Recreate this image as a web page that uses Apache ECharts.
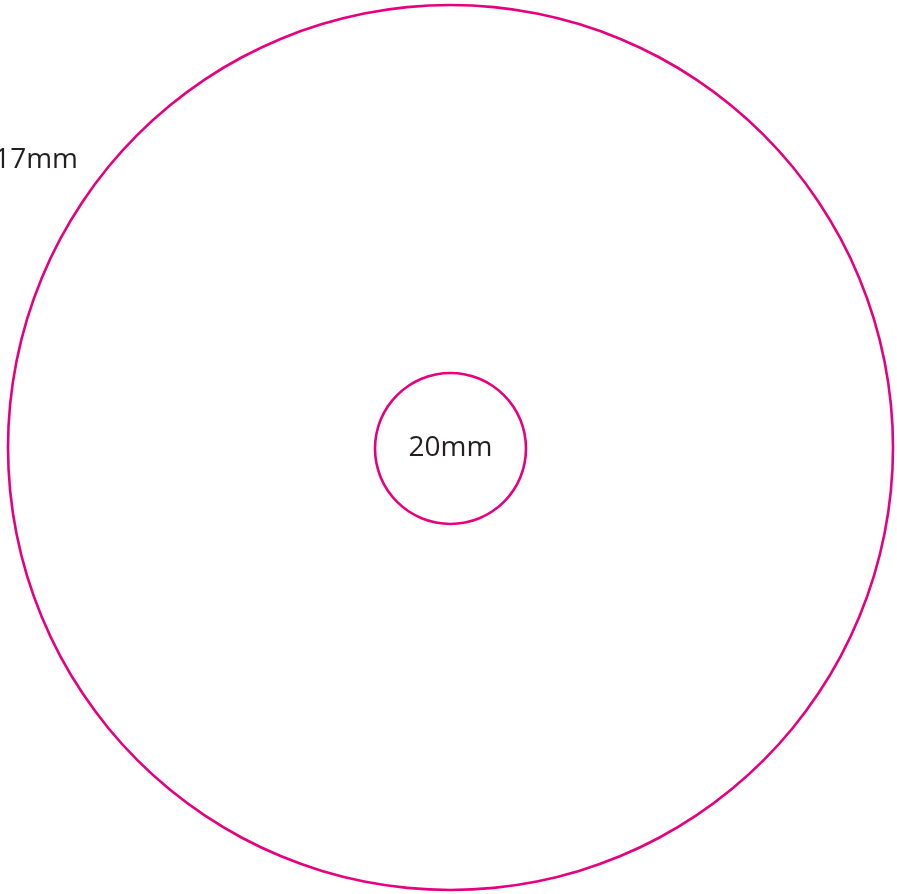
<!DOCTYPE html>
<html>
<head>
<meta charset="utf-8">
<script src="https://cdn.jsdelivr.net/npm/echarts@6/dist/echarts.min.js"></script>
<style>
  html, body { margin: 0; padding: 0; background: #fff; }
  #js_chart { width: 897px; height: 894px; }
</style>
</head>
<body>
<div id="js_chart"></div>
<script>
// labels for the two circles (outer, inner)
var circleNames = ['17mm', '20mm'];
var circleValues = [1, 1];

var myChart = echarts.init(document.getElementById('js_chart'));
var ringColor = '#e6007e';
var textColor = '#231f20';

var option = {
    animation: false,
    graphic: [
        {
            type: 'text',
            x: 78,
            y: 160,
            style: {
                text: circleNames[0],
                align: 'right',
                verticalAlign: 'middle',
                fill: textColor,
                font: '28px "Open Sans"'
            }
        }
    ],
    series: [
        {
            // outer circle
            type: 'pie',
            silent: true,
            center: [450.5, 447.5],
            radius: [441.2, 443.8],
            label: { show: false },
            labelLine: { show: false },
            emphasis: { disabled: true },
            itemStyle: { color: ringColor, borderWidth: 0 },
            data: [{ value: circleValues[0], name: circleNames[0] }]
        },
        {
            // inner circle
            type: 'pie',
            silent: true,
            center: [450.5, 448.5],
            radius: [74.2, 76.8],
            label: {
                show: true,
                position: 'center',
                formatter: '{b}',
                color: textColor,
                fontFamily: 'Open Sans',
                fontSize: 28
            },
            labelLine: { show: false },
            emphasis: { disabled: true },
            itemStyle: { color: ringColor, borderWidth: 0 },
            data: [{ value: circleValues[1], name: circleNames[1] }]
        }
    ]
};
myChart.setOption(option);
window.addEventListener('resize', function () {
    myChart.resize();
});
</script>
</body>
</html>
